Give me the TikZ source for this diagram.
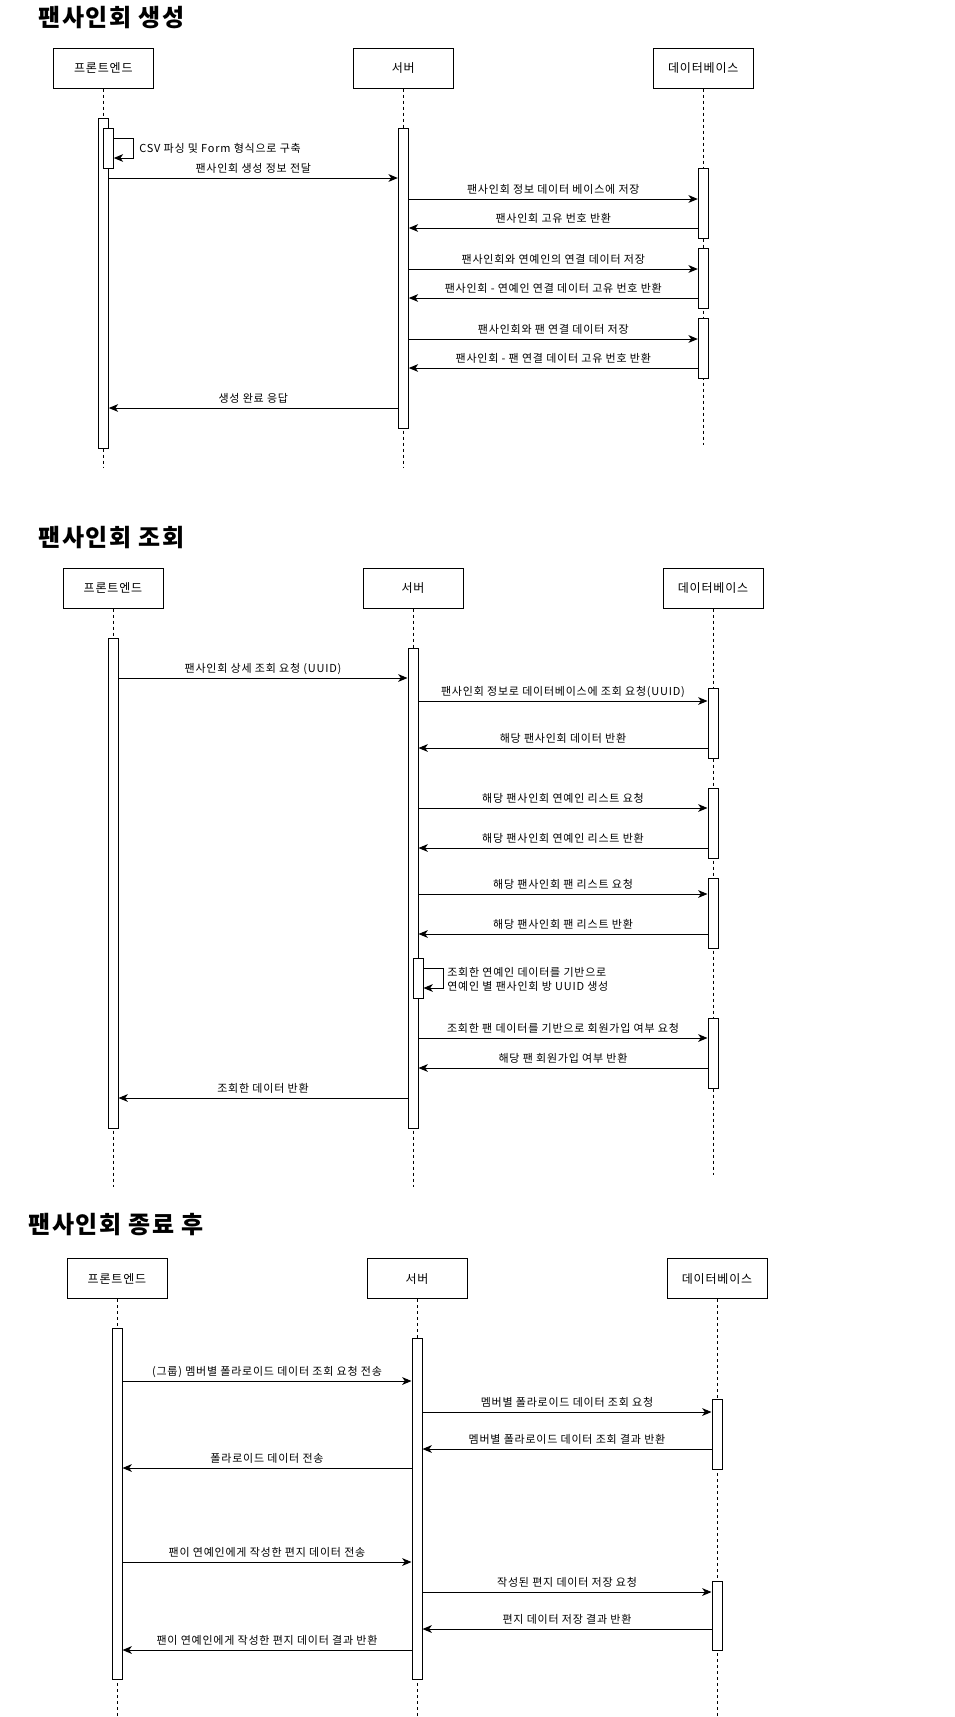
\documentclass[tikz,border=0pt]{standalone}
\usepackage{fontspec}
\setmainfont{Noto Sans CJK KR}[LetterSpace=7]
\usetikzlibrary{arrows.meta}
\newcommand\actbar[4]{\node[act, minimum height={(#4-#3)*0.75pt}] (#1) at (#2,{(#3+#4)/2}) {};}
\newcommand\msgR[4]{\draw[msg] (#1.east |- 0,#3) -- node[lbl] {#4} (#2.west |- 0,#3);}
\newcommand\msgL[4]{\draw[msg] (#1.west |- 0,#3) -- node[lbl] {#4} (#2.east |- 0,#3);}
\begin{document}
\begin{tikzpicture}[x=0.75pt,y=-0.75pt,
  part/.style={draw, line width=0.75pt, minimum width=75pt, minimum height=30pt, inner sep=0pt, font=\fontsize{9}{10}\selectfont},
  act/.style={draw, fill=white, line width=0.75pt, minimum width=7.5pt, inner sep=0pt},
  life/.style={line width=0.75pt, dash pattern=on 2.25pt off 2.25pt},
  msg/.style={line width=0.75pt, -{Stealth[length=7pt,width=5.8pt,inset=2pt]}},
  lbl/.style={font=\fontsize{8.25}{10}\selectfont, inner sep=0pt, midway, anchor=base, yshift=4.5pt},
  note/.style={font=\fontsize{8.25}{10.5}\selectfont, inner sep=0pt, anchor=west, align=left},
  ttl/.style={font=\fontsize{18}{20}\selectfont\bfseries, anchor=west, inner sep=0pt}]
\fill[white] (0,0) rectangle (955,1717);
\useasboundingbox (0,0) rectangle (955,1717);

% ---------- Section 1 ----------
\node[ttl] (t1) at (38,17.5) {팬사인회 생성};
\node[part] (f1) at (103.3,68) {프론트엔드};
\node[part] (s1) at (403.3,68) {서버};
\node[part] (d1) at (703.3,68) {데이터베이스};
\coordinate (f1e) at (103.3,468);
\coordinate (s1e) at (403.3,468);
\coordinate (d1e) at (703.3,445);
\draw[life] (f1) -- (f1e);
\draw[life] (s1) -- (s1e);
\draw[life] (d1) -- (d1e);
\actbar{fa1}{103.3}{118}{448}
\actbar{fa2}{108.3}{128}{168}
\actbar{sa1}{403.3}{128}{428}
\actbar{da1}{703.3}{168}{238}
\actbar{da2}{703.3}{248}{308}
\actbar{da3}{703.3}{318}{378}
\draw[msg] (fa2.east |- 0,138) -- ++(20,0) -- ++(0,20) -- (fa2.east |- 0,158);
\node[note] (n1) at (139,148) {CSV 파싱 및 Form 형식으로 구축};
\msgR{fa1}{sa1}{178}{팬사인회 생성 정보 전달}
\msgR{sa1}{da1}{199}{팬사인회 정보 데이터 베이스에 저장}
\msgL{da1}{sa1}{228}{팬사인회 고유 번호 반환}
\msgR{sa1}{da2}{269}{팬사인회와 연예인의 연결 데이터 저장}
\msgL{da2}{sa1}{298}{팬사인회 - 연예인 연결 데이터 고유 번호 반환}
\msgR{sa1}{da3}{339}{팬사인회와 팬 연결 데이터 저장}
\msgL{da3}{sa1}{368}{팬사인회 - 팬 연결 데이터 고유 번호 반환}
\msgL{sa1}{fa1}{408}{생성 완료 응답}

% ---------- Section 2 ----------
\node[ttl] (t2) at (38,537.5) {팬사인회 조회};
\node[part] (f2) at (113,588) {프론트엔드};
\node[part] (s2) at (413,588) {서버};
\node[part] (d2) at (713,588) {데이터베이스};
\coordinate (f2e) at (113,1187);
\coordinate (s2e) at (413,1187);
\coordinate (d2e) at (713,1175);
\draw[life] (f2) -- (f2e);
\draw[life] (s2) -- (s2e);
\draw[life] (d2) -- (d2e);
\actbar{fb1}{113}{638}{1128}
\actbar{sb1}{413}{648}{1128}
\actbar{sb2}{418}{958}{998}
\actbar{db1}{713}{688}{758}
\actbar{db2}{713}{788}{858}
\actbar{db3}{713}{878}{948}
\actbar{db4}{713}{1018}{1088}
\msgR{fb1}{sb1}{678}{팬사인회 상세 조회 요청 (UUID)}
\msgR{sb1}{db1}{701}{팬사인회 정보로 데이터베이스에 조회 요청(UUID)}
\msgL{db1}{sb1}{748}{해당 팬사인회 데이터 반환}
\msgR{sb1}{db2}{808}{해당 팬사인회 연예인 리스트 요청}
\msgL{db2}{sb1}{848}{해당 팬사인회 연예인 리스트 반환}
\msgR{sb1}{db3}{894}{해당 팬사인회 팬 리스트 요청}
\msgL{db3}{sb1}{934}{해당 팬사인회 팬 리스트 반환}
\draw[msg] (sb2.east |- 0,968) -- ++(20,0) -- ++(0,20) -- (sb2.east |- 0,988);
\node[note] (n2) at (447,979) {조회한 연예인 데이터를 기반으로\\연예인 별 팬사인회 방 UUID 생성};
\msgR{sb1}{db4}{1038}{조회한 팬 데이터를 기반으로 회원가입 여부 요청}
\msgL{db4}{sb1}{1068}{해당 팬 회원가입 여부 반환}
\msgL{sb1}{fb1}{1098}{조회한 데이터 반환}

% ---------- Section 3 ----------
\node[ttl] (t3) at (28,1225) {팬사인회 종료 후};
\node[part] (f3) at (117,1278.5) {프론트엔드};
\node[part] (s3) at (417,1278.5) {서버};
\node[part] (d3) at (717,1278.5) {데이터베이스};
\coordinate (f3e) at (117,1717);
\coordinate (s3e) at (417,1717);
\coordinate (d3e) at (717,1717);
\draw[life] (f3) -- (f3e);
\draw[life] (s3) -- (s3e);
\draw[life] (d3) -- (d3e);
\actbar{gb1}{117}{1328}{1679}
\actbar{hb1}{417}{1338}{1679}
\actbar{ib1}{717}{1399}{1469}
\actbar{ib2}{717}{1581}{1650}
\msgR{gb1}{hb1}{1381}{(그룹) 멤버별 폴라로이드 데이터 조회 요청 전송}
\msgR{hb1}{ib1}{1412}{멤버별 폴라로이드 데이터 조회 요청}
\msgL{ib1}{hb1}{1449}{멤버별 폴라로이드 데이터 조회 결과 반환}
\msgL{hb1}{gb1}{1468}{폴라로이드 데이터 전송}
\msgR{gb1}{hb1}{1562}{팬이 연예인에게 작성한 편지 데이터 전송}
\msgR{hb1}{ib2}{1592}{작성된 편지 데이터 저장 요청}
\msgL{ib2}{hb1}{1629}{편지 데이터 저장 결과 반환}
\msgL{hb1}{gb1}{1650}{팬이 연예인에게 작성한 편지 데이터 결과 반환}
\end{tikzpicture}
\end{document}
